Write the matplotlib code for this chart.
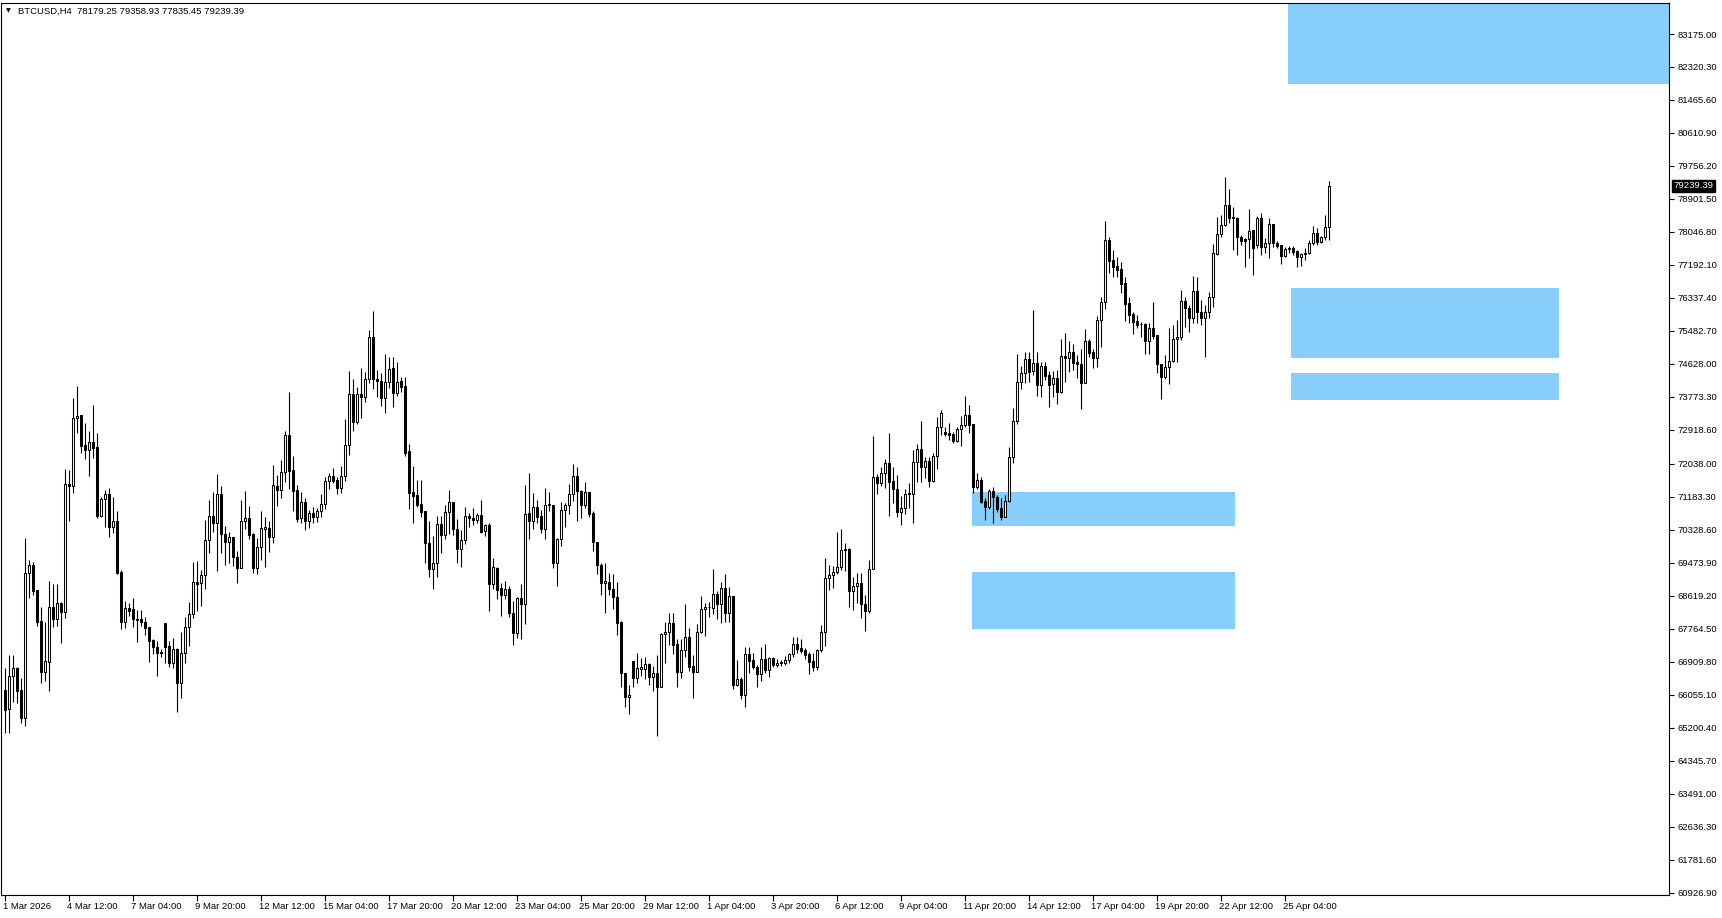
import matplotlib
matplotlib.use("Agg")
import matplotlib.pyplot as plt
import matplotlib.transforms as mtransforms
from matplotlib.patches import Rectangle
import numpy as np

symbol = "BTCUSD,H4"

opens = [
66179, 65687, 66542, 66749, 66179, 65453, 69210, 69418, 68770, 67966,
66645, 66904, 68329, 68018, 68433, 68200, 71516, 71464, 73226, 73304,
72527, 72397, 72604, 72475, 70687, 71127, 71257, 70402, 70558, 69236,
67940, 68303, 68277, 68018, 68018, 67940, 67811, 67474, 67293, 67163,
67914, 67319, 66878, 67241, 66360, 67137, 67811, 68148, 68977, 68951,
69159, 70065, 70687, 70506, 71257, 70220, 70013, 70143, 69625, 69340,
70558, 70635, 70220, 69340, 69884, 70350, 70376, 70143, 71464, 71361,
71827, 72786, 71879, 71361, 70635, 71049, 70558, 70765, 70661, 70817,
70998, 71594, 71724, 71620, 71412, 71724, 72527, 73848, 73122, 73848,
73770, 74237, 75325, 74237, 74185, 73744, 74159, 74522, 73874, 74185,
74055, 72371, 71309, 71231, 70998, 70817, 69987, 69314, 69469, 70480,
70195, 70791, 71049, 70350, 69832, 70065, 70687, 70635, 70583, 70713,
70298, 70454, 68925, 69340, 68822, 68640, 68796, 68174, 67655, 68562,
68407, 70765, 70558, 70920, 70687, 70350, 70972, 70972, 69469, 70091,
70842, 70972, 71257, 71724, 71335, 70972, 71309, 70765, 70013, 69418,
68951, 68977, 68796, 68589, 67940, 66619, 65998, 66930, 66490, 66723,
66723, 66852, 66516, 66619, 66256, 67629, 67681, 67914, 67371, 66645,
67215, 67552, 66801, 66645, 67681, 68277, 68329, 68303, 68666, 68407,
68822, 68174, 68614, 66308, 66464, 66049, 67111, 66956, 66775, 66593,
66982, 66697, 67008, 66826, 66878, 66878, 66956, 67111, 67371, 67267,
67215, 67111, 66930, 66775, 67215, 67681, 69081, 69159, 69236, 69366,
69806, 69832, 68744, 68874, 68951, 68407, 68226, 69314, 71698, 71542,
71801, 72060, 71594, 71387, 70791, 70894, 71283, 71257, 72086, 72423,
71957, 72112, 71594, 72242, 72993, 72863, 72837, 72811, 72630, 72941,
73045, 73304, 73071, 71439, 71620, 71075, 70920, 71335, 71179, 70894,
70661, 71075, 72216, 73148, 74159, 74392, 74755, 74444, 74651, 74081,
74574, 74341, 74107, 74263, 73900, 74833, 74781, 74936, 74677, 74625,
74133, 75221, 74936, 74781, 75765, 76232, 77838, 77320, 77164, 77087,
76724, 76206, 75921, 75739, 75661, 75661, 75221, 75558, 75377, 74625,
74289, 74548, 74703, 75273, 75325, 76258, 76076, 75817, 76516, 75972,
75817, 75972, 76361, 77475, 77993, 78226, 78745, 78434, 78408, 77915,
77864, 77864, 78097, 77700, 78408, 77657, 77760, 78252, 77760, 77708,
77423, 77605, 77631, 77553, 77397, 77501, 77501, 77760, 78019, 77786,
77916, 78179.25]

highs = [
66749, 67085, 67085, 66775, 66490, 70117, 69547, 69495, 68770, 68329,
67940, 69003, 68925, 68925, 68459, 71905, 71879, 73744, 74056, 73304,
73097, 72889, 73563, 72837, 71179, 71361, 71412, 71179, 70817, 69288,
68485, 68433, 68562, 68251, 68251, 68070, 67811, 67500, 67448, 67241,
67914, 67448, 67526, 67267, 67681, 68070, 68459, 69495, 69521, 69288,
70583, 71101, 71309, 71776, 71464, 70428, 70272, 70143, 69780, 71101,
71335, 70946, 70246, 70117, 70817, 70661, 70558, 72008, 71750, 72138,
72889, 73900, 72242, 71490, 71309, 71153, 70842, 70920, 70894, 71257,
71698, 71801, 71931, 71698, 71983, 73200, 74444, 74237, 74029, 74522,
74418, 75506, 75999, 74470, 74392, 74884, 74807, 74807, 74677, 74288,
74288, 72553, 71983, 71620, 71620, 70817, 70558, 70168, 70687, 70687,
70972, 71361, 71049, 70609, 70324, 70920, 70765, 70894, 70765, 71101,
70480, 70506, 69599, 69366, 68951, 69003, 68874, 68485, 68588, 68925,
71490, 71801, 71283, 71101, 70842, 71412, 71309, 70972, 70117, 71049,
71024, 71516, 72034, 71957, 71361, 71568, 71309, 70817, 70013, 69469,
69469, 69210, 69184, 68977, 67966, 66619, 66308, 66930, 67137, 67008,
67034, 66878, 66800, 67085, 67655, 67940, 68174, 68174, 67500, 67500,
68407, 67785, 67085, 67889, 68614, 68433, 68459, 69314, 68744, 68977,
69184, 68848, 68614, 66956, 66516, 67293, 67293, 67137, 66826, 67293,
67371, 67034, 67034, 66982, 66956, 67059, 67137, 67552, 67552, 67500,
67267, 67163, 67137, 67241, 67863, 69599, 69418, 69392, 70272, 70350,
69987, 69858, 69107, 69210, 69210, 68640, 69547, 72760, 71776, 71957,
72164, 72837, 71957, 71750, 71205, 71387, 71542, 72397, 72553, 73148,
72216, 72216, 72319, 73252, 73433, 72993, 73097, 72863, 72993, 73278,
73796, 73563, 73071, 71801, 71698, 71153, 71387, 71439, 71231, 71153,
71231, 72475, 73485, 74884, 74574, 74936, 74936, 76024, 74936, 74677,
74677, 74444, 74444, 74470, 75273, 75428, 75221, 75143, 74859, 75014,
75532, 75273, 75014, 75869, 76361, 78330, 77916, 77579, 77398, 77268,
76879, 76361, 75973, 75895, 75713, 75687, 75687, 76232, 75377, 74625,
74859, 75558, 75636, 75765, 76542, 76361, 76154, 76905, 76879, 76283,
76154, 76490, 77734, 78434, 78486, 79470, 79159, 78693, 78434, 77967,
77890, 78641, 78097, 78460, 78538, 77890, 78408, 78252, 77812, 77708,
77657, 77683, 77683, 77579, 77501, 77631, 77838, 78200, 78148, 77942,
78486, 79358.93]

lows = [
65064, 65064, 65868, 65842, 65324, 65246, 68562, 68640, 67837, 66360,
66412, 66153, 67811, 67837, 67396, 68044, 70558, 71283, 72837, 72319,
72164, 71724, 72190, 70635, 70661, 70402, 70143, 70246, 69184, 67759,
67785, 68096, 67811, 67422, 67837, 67603, 66904, 67111, 66542, 67034,
66878, 66775, 66749, 65609, 65972, 66878, 67319, 68044, 68226, 68355,
68796, 69728, 70272, 69262, 69728, 69418, 69469, 69392, 68951, 69340,
70350, 70091, 69210, 69184, 69547, 69366, 69754, 69987, 70946, 71153,
71568, 71387, 70817, 70532, 70506, 70324, 70376, 70506, 70532, 70661,
70868, 71387, 71542, 71257, 71283, 71594, 72267, 72889, 73071, 73226,
73641, 74133, 73977, 73770, 73537, 73356, 74003, 73511, 73796, 73900,
72242, 70868, 70506, 70920, 70661, 69469, 69107, 68796, 69107, 69728,
70091, 70220, 70195, 69469, 69366, 69962, 70402, 70454, 70506, 70246,
70168, 68226, 68796, 68537, 68096, 68537, 68070, 67345, 67526, 67500,
67889, 70091, 70350, 70506, 70246, 70091, 70817, 69340, 68874, 69910,
70402, 70739, 71075, 70558, 70635, 70894, 70661, 69780, 69184, 68640,
68174, 68640, 68277, 67603, 66256, 65738, 65557, 66256, 66360, 66542,
66464, 66308, 66153, 64987, 66256, 66878, 67345, 67111, 66256, 66490,
67034, 66671, 65972, 66645, 67655, 67578, 68070, 68148, 68018, 67914,
67940, 67940, 66205, 66282, 65946, 65738, 66619, 66723, 66256, 66412,
66619, 66516, 66775, 66775, 66800, 66826, 66878, 67034, 67137, 67137,
66982, 66593, 66671, 66697, 67163, 67319, 68770, 68822, 69184, 69288,
69262, 68329, 68251, 68433, 68044, 67707, 68174, 69314, 71257, 71464,
71412, 70687, 71024, 70661, 70454, 70739, 70894, 70506, 71568, 71568,
71672, 71439, 71568, 71905, 72786, 72760, 72656, 72578, 72604, 72501,
72993, 72837, 71283, 71387, 71024, 70583, 70868, 70506, 70791, 70583,
70661, 71049, 72060, 73071, 73977, 74133, 74159, 74341, 73796, 73770,
74211, 73511, 73770, 73589, 73874, 74159, 74418, 74470, 74263, 73459,
74133, 74807, 74522, 74548, 75066, 76050, 76983, 76879, 76879, 76464,
75740, 75687, 75402, 75558, 75325, 74884, 74884, 75273, 74392, 73718,
74237, 74107, 74677, 74677, 75247, 75584, 75454, 75687, 75687, 75636,
74807, 75817, 76102, 77449, 77915, 78200, 78278, 77579, 77449, 77708,
77138, 77372, 76931, 77631, 77449, 77501, 77372, 77657, 77631, 77216,
77397, 77501, 77449, 77138, 77164, 77320, 77475, 77708, 77708, 77760,
77838, 77835.45]

closes = [
65661, 66542, 66749, 66153, 65453, 69210, 69418, 68744, 67940, 66645,
66930, 68329, 68018, 68433, 68200, 71516, 71464, 73226, 73278, 72501,
72397, 72604, 72449, 70687, 71127, 71257, 70402, 70558, 69210, 67940,
68303, 68226, 68018, 68005, 67940, 67785, 67448, 67293, 67137, 67150,
67293, 66878, 67241, 66360, 67137, 67811, 68148, 68977, 68925, 69159,
70065, 70687, 70506, 71257, 70220, 70013, 70143, 69625, 69340, 70558,
70635, 70195, 69340, 69884, 70376, 70402, 70143, 71490, 71361, 71827,
72786, 71853, 71335, 70609, 71049, 70558, 70765, 70661, 70817, 70998,
71594, 71724, 71594, 71412, 71724, 72527, 73848, 73122, 73848, 73770,
74237, 75325, 74237, 74185, 73744, 74159, 74496, 73874, 74159, 74029,
72319, 71283, 71205, 70972, 70791, 69987, 69314, 69469, 70480, 70195,
70791, 71049, 70350, 69832, 70065, 70687, 70635, 70583, 70713, 70272,
70454, 68925, 69366, 68770, 68640, 68796, 68174, 67655, 68562, 68407,
70739, 70558, 70920, 70661, 70350, 70972, 70985, 69469, 70091, 70842,
70972, 71257, 71724, 71335, 70972, 71309, 70739, 70013, 69418, 68951,
69003, 68796, 68589, 67914, 66619, 65998, 66049, 66490, 66749, 66775,
66852, 66516, 66619, 66256, 67629, 67681, 67914, 67345, 66645, 67215,
67552, 66775, 66645, 67681, 68277, 68329, 68342, 68666, 68407, 68822,
68174, 68614, 66308, 66464, 66049, 67111, 66930, 66775, 66593, 66982,
66697, 67008, 66826, 66878, 66904, 66956, 67111, 67371, 67241, 67189,
67085, 66904, 66775, 67215, 67681, 69081, 69159, 69236, 69366, 69806,
69832, 68744, 68874, 68951, 68407, 68226, 69314, 71698, 71542, 71801,
72060, 71568, 71387, 70791, 70894, 71257, 71257, 72086, 72423, 71957,
72112, 71594, 72242, 72993, 73356, 72811, 72786, 72630, 72941, 73045,
73304, 73045, 71439, 71620, 71049, 70920, 71335, 71179, 70868, 70661,
71075, 72216, 73148, 74159, 74392, 74755, 74418, 74651, 74081, 74574,
74315, 74081, 74263, 73900, 74833, 74781, 74936, 74651, 74625, 74133,
75221, 74910, 74781, 75765, 76232, 77838, 77294, 77138, 77061, 76698,
76180, 75895, 75713, 75636, 75649, 75221, 75558, 75351, 74625, 74289,
74548, 74703, 75273, 75325, 76258, 76076, 75817, 76516, 75972, 75817,
75972, 76361, 77501, 77993, 78226, 78745, 78408, 78408, 77915, 77812,
77812, 78071, 77631, 78408, 77657, 77760, 78252, 77760, 77683, 77423,
77605, 77631, 77527, 77397, 77475, 77475, 77760, 78019, 77786, 77916,
78175, 79239.39]

# time-axis labels (bar index -> label)
date_tick_idx = [0, 16, 32, 48, 64, 80, 96, 112, 128, 144, 160, 176, 192,
                 208, 224, 240, 256, 272, 288, 304, 320]
date_tick_labels = ["1 Mar 2026", "4 Mar 12:00", "7 Mar 04:00", "9 Mar 20:00",
                    "12 Mar 12:00", "15 Mar 04:00", "17 Mar 20:00", "20 Mar 12:00",
                    "23 Mar 04:00", "25 Mar 20:00", "29 Mar 12:00", "1 Apr 04:00",
                    "3 Apr 20:00", "6 Apr 12:00", "9 Apr 04:00", "11 Apr 20:00",
                    "14 Apr 12:00", "17 Apr 04:00", "19 Apr 20:00", "22 Apr 12:00",
                    "25 Apr 04:00"]

price_tick_labels = ["83175.00", "82320.30", "81465.60", "80610.90", "79756.20",
                     "78901.50", "78046.80", "77192.10", "76337.40", "75482.70",
                     "74628.00", "73773.30", "72918.60", "72038.00", "71183.30",
                     "70328.60", "69473.90", "68619.20", "67764.50", "66909.80",
                     "66055.10", "65200.40", "64345.70", "63491.00", "62636.30",
                     "61781.60", "60926.90"]

# supply / demand zones: start bar, end bar, upper price, lower price
zone_start = [320.75, 321.5, 321.5, 241.75, 241.75]
zone_end = [425.0, 388.5, 388.5, 307.5, 307.5]
zone_top = [84500, 76602, 74384, 71309, 69236]
zone_bottom = [81867, 74781, 73700, 70428, 67759]

# ---------------------------------------------------------------------------
W, H = 1722, 918
fig = plt.figure(figsize=(W / 100, H / 100), dpi=100)
fig.patch.set_facecolor("white")
ax = fig.add_axes([1 / W, 23 / H, 1668 / W, 892 / H])
ax.set_facecolor("white")

FONT = "Liberation Sans"
FS = 6.8

o = np.array(opens, float)
h = np.array(highs, float)
l = np.array(lows, float)
c = np.array(closes, float)
h = np.maximum(h, np.maximum(o, c))
l = np.minimum(l, np.minimum(o, c))
idx = np.arange(len(o))

for xs, xe, top, bot in zip(zone_start, zone_end, zone_top, zone_bottom):
    ax.add_patch(Rectangle((xs, bot), xe - xs, top - bot, facecolor="#87CEFA",
                           edgecolor="none", zorder=1))

ax.vlines(idx, l, h, color="black", linewidth=0.8, zorder=2)
bull = c >= o
face = np.where(bull, "white", "black")
ax.bar(idx, np.abs(c - o), bottom=np.minimum(o, c), width=0.5,
       color=face, edgecolor="black", linewidth=0.75, zorder=3)

ax.set_xlim(-1.0, 416.0)
ax.set_ylim(60867.3, 83978.2)

for s in ax.spines.values():
    s.set_color("black")
    s.set_linewidth(0.8)

ax.yaxis.tick_right()
ax.set_yticks([float(t) for t in price_tick_labels])
ax.set_yticklabels(price_tick_labels, fontsize=FS, family=FONT)
ax.tick_params(axis="y", direction="out", length=3.5, width=0.8, pad=2.5,
               colors="black")

ax.set_xticks(date_tick_idx)
ax.set_xticklabels(date_tick_labels, fontsize=FS, family=FONT)
ax.tick_params(axis="x", direction="out", length=4, width=0.8, pad=1.0,
               colors="black")
offset = mtransforms.ScaledTranslation(-1.2 / 72, 0, fig.dpi_scale_trans)
for lab in ax.get_xticklabels():
    lab.set_horizontalalignment("left")
    lab.set_transform(lab.get_transform() + offset)

# current price marker
last = closes[-1]
ax.annotate(f"{last:.2f}", xy=(1, last), xycoords=("axes fraction", "data"),
            xytext=(3.2, 0), textcoords="offset points", ha="left", va="center",
            fontsize=FS, family=FONT, color="white",
            bbox=dict(boxstyle="square,pad=0.12", fc="black", ec="black"),
            annotation_clip=False, zorder=10)

# header
fig.text(6 / W, 1 - 11 / H, "\u25BC", fontsize=4.5, family="DejaVu Sans",
         va="center", ha="left", color="black")
fig.text(18 / W, 1 - 11 / H,
         f"{symbol}  {opens[-1]:.2f} {highs[-1]:.2f} {lows[-1]:.2f} {closes[-1]:.2f}",
         fontsize=FS, family=FONT, va="center", ha="left", color="black")

fig.savefig("out.png", dpi=100, facecolor="white")
